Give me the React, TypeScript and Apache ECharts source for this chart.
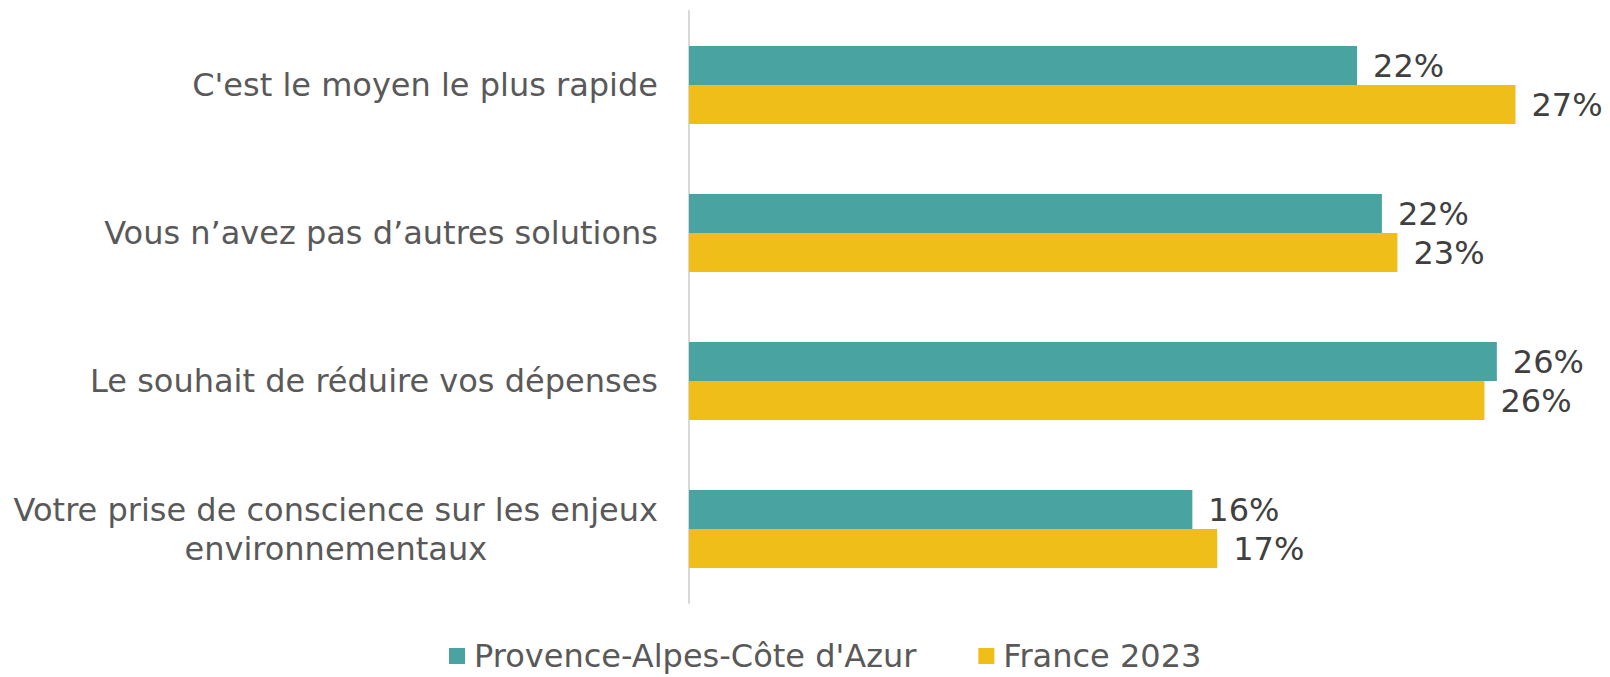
import React, { useEffect, useRef } from "react";
import * as echarts from "echarts";

const categories = [
  "C'est le moyen le plus rapide",
  "Vous n’avez pas d’autres solutions",
  "Le souhait de réduire vos dépenses",
  "Votre prise de conscience sur les enjeux\nenvironnementaux",
];
const seriesNames = ["Provence-Alpes-Côte d'Azur", "France 2023"];
const pacaValues = [21.5, 22.3, 26.0, 16.2];
const franceValues = [26.6, 22.8, 25.6, 17.0];
const colors = ["#49A3A0", "#F0BE18"];

const FONT = "'DejaVu Sans', Verdana, sans-serif";

export default function App() {
  const ref = useRef<HTMLDivElement>(null);
  useEffect(() => {
    if (!ref.current) return;
    const chart = echarts.init(ref.current, null, { renderer: "svg" });
    const label = {
      show: true,
      position: "right",
      distance: 16,
      fontFamily: FONT,
      fontSize: 32,
      color: "#404040",
      formatter: (p: any) => Math.round(p.value) + "%",
    };
    chart.setOption({
      animation: false,
      textStyle: { fontFamily: FONT },
      grid: { left: 689, top: 11, right: 51, bottom: 74 },
      legend: {
        data: seriesNames,
        left: 449,
        top: 638,
        padding: 0,
        icon: "rect",
        itemWidth: 16,
        itemHeight: 16,
        itemGap: 62,
        textStyle: { fontFamily: FONT, fontSize: 32, color: "#595959", lineHeight: 36, padding: [0, 0, 0, 4] },
      },
      xAxis: {
        type: "value",
        min: 0,
        max: 28,
        show: false,
        splitLine: { show: false },
      },
      yAxis: {
        type: "category",
        data: categories,
        inverse: true,
        axisLine: { show: true, lineStyle: { color: "#D9D9D9", width: 2 } },
        axisTick: { show: false },
        axisLabel: {
          margin: 31,
          fontFamily: FONT,
          fontSize: 32,
          color: "#595959",
          lineHeight: 39,
          formatter: (v: string) =>
            v
              .split("\n")
              .map((l) => `{c|${l}}`)
              .join("\n"),
          rich: {
            c: { align: "center", fontFamily: FONT, fontSize: 32, color: "#595959", lineHeight: 39 },
          },
        },
      },
      series: [
        {
          name: seriesNames[0],
          type: "bar",
          data: pacaValues,
          barWidth: 39,
          barGap: "0%",
          itemStyle: { color: colors[0] },
          label,
        },
        {
          name: seriesNames[1],
          type: "bar",
          data: franceValues,
          barWidth: 39,
          barGap: "0%",
          itemStyle: { color: colors[1] },
          label,
        },
      ],
    });
    return () => chart.dispose();
  }, []);
  return (
    <div
      ref={ref}
      style={{ position: "fixed", left: 0, top: 0, width: 1610, height: 677, background: "#fff" }}
    />
  );
}
